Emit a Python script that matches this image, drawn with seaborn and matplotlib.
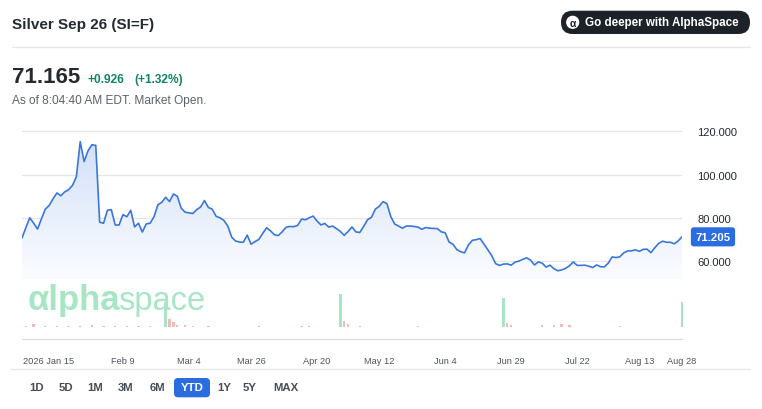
import numpy as np
import pandas as pd
import matplotlib
matplotlib.use("Agg")
import matplotlib.pyplot as plt
import matplotlib.transforms as mtransforms
from matplotlib.patches import FancyBboxPatch, Circle
from matplotlib.lines import Line2D
from matplotlib.colors import LinearSegmentedColormap
import seaborn as sns

# ==============================================================================
# data
# ==============================================================================

title = "Silver Sep 26 (SI=F)"
last_price = "71.165"
change_abs = "+0.926"
change_pct = "(+1.32%)"
asof_txt = "As of 8:04:40 AM EDT. Market Open."
cta_txt = "Go deeper with AlphaSpace"

trading_days = pd.bdate_range("2026-01-02", "2026-08-28")

close = [70.7, 75.5, 80.0, 77.5, 74.8, 79.5, 84.0, 85.7, 88.8, 91.5,
         90.2, 92.0, 93.0, 95.0, 99.0, 115.2, 106.0, 111.0, 113.8, 113.5,
         78.0, 77.5, 83.5, 83.8, 76.7, 76.7, 81.5, 80.5, 83.5, 75.8,
         77.5, 73.4, 77.2, 77.5, 80.5, 86.0, 87.2, 89.5, 87.5, 91.0,
         90.0, 84.5, 82.6, 82.3, 82.0, 83.8, 85.0, 88.0, 84.8, 84.0,
         80.7, 80.0, 78.8, 76.2, 71.1, 69.3, 68.8, 68.7, 72.0, 67.8,
         69.0, 70.0, 72.8, 75.4, 74.0, 72.2, 71.8, 73.5, 75.6, 76.0,
         75.9, 76.5, 79.4, 79.1, 80.0, 80.8, 78.5, 76.7, 77.4, 75.7,
         76.2, 75.0, 73.7, 71.9, 73.7, 75.8, 73.5, 73.2, 76.0, 79.1,
         80.2, 84.0, 85.3, 87.5, 86.5, 80.5, 77.1, 76.2, 75.2, 76.2,
         76.2, 76.0, 75.7, 74.7, 75.5, 75.2, 75.1, 75.0, 73.5, 73.1,
         68.8, 67.8, 65.3, 64.3, 63.8, 67.5, 69.6, 69.9, 70.4, 67.8,
         65.2, 62.5, 58.8, 58.0, 58.6, 58.7, 58.1, 59.5, 60.0, 60.8,
         61.5, 60.4, 58.2, 59.6, 59.0, 57.2, 58.1, 56.5, 55.5, 55.9,
         56.6, 57.8, 59.6, 58.0, 58.0, 58.1, 57.6, 57.0, 58.2, 57.4,
         57.3, 59.0, 61.9, 61.6, 62.0, 63.8, 64.7, 64.7, 65.2, 64.5,
         65.4, 65.5, 63.9, 66.2, 68.2, 69.2, 68.7, 68.7, 68.0, 69.3,
         71.205]

tick_dates = ["2026-01-15", "2026-02-09", "2026-03-04", "2026-03-26", "2026-04-20",
              "2026-05-12", "2026-06-04", "2026-06-29", "2026-07-22", "2026-08-13",
              "2026-08-28"]
tick_labels = ["2026 Jan 15", "Feb 9", "Mar 4", "Mar 26", "Apr 20", "May 12",
               "Jun 4", "Jun 29", "Jul 22", "Aug 13", "Aug 28"]
price_ticks = [60, 80, 100, 120]

vol_dates = ["2026-01-05", "2026-01-07", "2026-01-12", "2026-01-15", "2026-01-20",
             "2026-01-23", "2026-01-28", "2026-02-02", "2026-02-05", "2026-02-10",
             "2026-02-13", "2026-02-18", "2026-02-24", "2026-02-25", "2026-02-26",
             "2026-02-27", "2026-03-03", "2026-03-05", "2026-03-11", "2026-03-30",
             "2026-04-14", "2026-04-16", "2026-04-28", "2026-04-29", "2026-04-30",
             "2026-05-05", "2026-05-26", "2026-06-25", "2026-06-26", "2026-06-29",
             "2026-07-09", "2026-07-14", "2026-07-16", "2026-07-20", "2026-08-06",
             "2026-08-28"]
vol_values = [1, 3, 1, 1, 1, 1, 2, 1, 1, 1,
              1, 1, 25, 8, 5, 2, 2, 1, 1, 1,
              1, 1, 33, 6, 3, 1, 1, 29, 4, 2,
              2, 2, 3, 2, 1, 25]
vol_up = [0, 0, 1, 0, 1, 0, 0, 1, 0, 1,
          0, 1, 1, 0, 0, 0, 0, 1, 0, 0,
          1, 0, 1, 0, 0, 0, 1, 1, 0, 0,
          0, 0, 0, 0, 1, 1]

ranges = ["1D", "5D", "1M", "3M", "6M", "YTD", "1Y", "5Y", "MAX"]
active_range = "YTD"

# ==============================================================================
# styling
# ==============================================================================

W, H = 762, 410
FONT = ["Liberation Sans", "DejaVu Sans"]
LINE_BLUE = "#3a77d9"
TAG_BLUE = "#2a6de0"
DARK = "#232a31"
GREY = "#5b636a"
RULE = "#e3e6ea"
MINT = "#a6e6c4"

sns.set_theme(style="white")
plt.rcParams["font.family"] = FONT


def fx(px):
    return px / W


def fy(py):
    return 1 - py / H


fig = plt.figure(figsize=(W / 100, H / 100), dpi=100)
fig.patch.set_facecolor("white")

x = np.arange(len(trading_days))
y_lo, y_hi = 51.7, 123.4

# ---- price panel
ax = fig.add_axes([fx(22), fy(280), fx(660), 155 / H])
ax.set_facecolor("none")

for v in price_ticks:
    ax.axhline(v, color=RULE, lw=0.9, zorder=0)

poly = ax.fill_between(x, close, y_lo, color="none", lw=0)
grad = np.linspace(1, 0, 256).reshape(-1, 1)
cmap = LinearSegmentedColormap.from_list("fade", ["#fbfcff", "#d2e0f9"])
im = ax.imshow(grad, extent=[0, x[-1], y_lo, 117], aspect="auto", cmap=cmap,
               origin="upper", zorder=1, interpolation="bilinear")
im.set_clip_path(poly.get_paths()[0], transform=ax.transData)

sns.lineplot(x=x, y=close, ax=ax, color=LINE_BLUE, lw=1.2, zorder=3)

ax.set_xlim(0, x[-1])
ax.set_ylim(y_lo, y_hi)
ax.set_xticks([])
ax.yaxis.tick_right()
ax.set_yticks(price_ticks)
ax.set_yticklabels([f"{v:.3f}" for v in price_ticks])
ax.tick_params(axis="y", length=0, pad=10.8, labelsize=8, labelcolor=DARK)
ax.set_xlabel("")
ax.set_ylabel("")
for s in ax.spines.values():
    s.set_visible(False)

ax.annotate(f"{close[-1]:.3f}", xy=(1, close[-1]), xycoords=("axes fraction", "data"),
            xytext=(22.3, 0), textcoords="offset points", ha="center", va="center",
            color="white", fontsize=8.2, fontweight="bold",
            bbox=dict(boxstyle="round,pad=0.4,rounding_size=0.25", fc=TAG_BLUE, ec="none"))

# ---- volume panel with the date axis
vax = fig.add_axes([fx(22), fy(328), fx(660), 43 / H])
vax.set_facecolor("none")
vol_pos = trading_days.get_indexer(pd.to_datetime(vol_dates))
vol_cols = ["#a9e4c6" if u else "#f3b9b9" for u in vol_up]
bars = vax.bar(vol_pos, vol_values, width=0.6, color=vol_cols, lw=0, zorder=2)
for b in bars:
    b.set_clip_on(False)
vax.set_xlim(0, x[-1])
vax.set_ylim(0, 43)
vax.set_yticks([])
for side in ["top", "left", "right"]:
    vax.spines[side].set_visible(False)
vax.spines["bottom"].set_position(("outward", 8.6))
vax.spines["bottom"].set_color("#d5d9de")
vax.spines["bottom"].set_linewidth(0.8)

tick_pos = list(trading_days.get_indexer(pd.to_datetime(tick_dates)))
vax.set_xticks([0] + tick_pos)
vax.set_xticklabels([""] + tick_labels)
vax.tick_params(axis="x", direction="out", length=7.2, width=0.8, color="#d5d9de",
                labelsize=6.7, labelcolor="#4d555c", pad=5)
first = vax.get_xticklabels()[1]
first.set_transform(first.get_transform() +
                    mtransforms.ScaledTranslation(-0.085, 0, fig.dpi_scale_trans))

# watermark
wm = fig.text(fx(28), fy(310), "\u03b1lpha", fontsize=25, fontweight="bold",
              color=MINT, va="baseline", ha="left", zorder=0)
fig.add_artist(plt.Annotation("space", xy=(1, 0), xycoords=wm, xytext=(-1.5, 0),
                              textcoords="offset points", fontsize=23.5, color=MINT,
                              va="bottom", ha="left", zorder=0))

# ---- header
fig.text(fx(12), fy(28.5), title, fontsize=11, fontweight="bold", color=DARK, va="baseline")
fig.add_artist(Line2D([fx(12), fx(750)], [fy(47.5)] * 2, color=RULE, lw=0.9))
fig.text(fx(12), fy(83.3), last_price, fontsize=16, fontweight="bold", color=DARK, va="baseline")
fig.text(fx(88), fy(83.3), change_abs, fontsize=8.6, color="#12855c", va="baseline",
         fontweight="semibold")
fig.text(fx(134), fy(83.3), change_pct, fontsize=8.6, color="#12855c", va="baseline",
         fontweight="semibold")
fig.text(fx(12), fy(104), asof_txt, fontsize=8.6, color=GREY, va="baseline")

# call to action pill
pill = FancyBboxPatch((5.61, (H - 35) / 100), 1.89, 0.233,
                      boxstyle="round,pad=0,rounding_size=0.115",
                      transform=fig.dpi_scale_trans, fc="#1d2228", ec="none")
fig.add_artist(pill)
fig.add_artist(Circle((5.727, (H - 23.3) / 100), 0.066, transform=fig.dpi_scale_trans,
                      fc="white", ec="none"))
fig.text(fx(572.7), fy(23.8), "\u03b1", fontsize=7.5, fontweight="bold", color="#1d2228",
         ha="center", va="center")
fig.text(fx(585), fy(23.3), cta_txt, fontsize=8.4, fontweight="bold", color="white",
         va="center")

# ---- range selector
fig.add_artist(Line2D([fx(10), fx(750)], [fy(370)] * 2, color=RULE, lw=0.9))
range_x = [37, 66, 95, 126, 157, 192, 224, 250, 286]
for lab, px in zip(ranges, range_x):
    if lab == active_range:
        fig.add_artist(FancyBboxPatch((1.74, (H - 398.3) / 100), 0.36, 0.193,
                                      boxstyle="round,pad=0,rounding_size=0.04",
                                      transform=fig.dpi_scale_trans, fc=TAG_BLUE, ec="none"))
        col = "white"
    else:
        col = "#464e56"
    fig.text(fx(px), fy(388.5), lab, fontsize=8.2, fontweight="bold", color=col,
             ha="center", va="center")

fig.savefig("out.png", dpi=100, facecolor="white")
